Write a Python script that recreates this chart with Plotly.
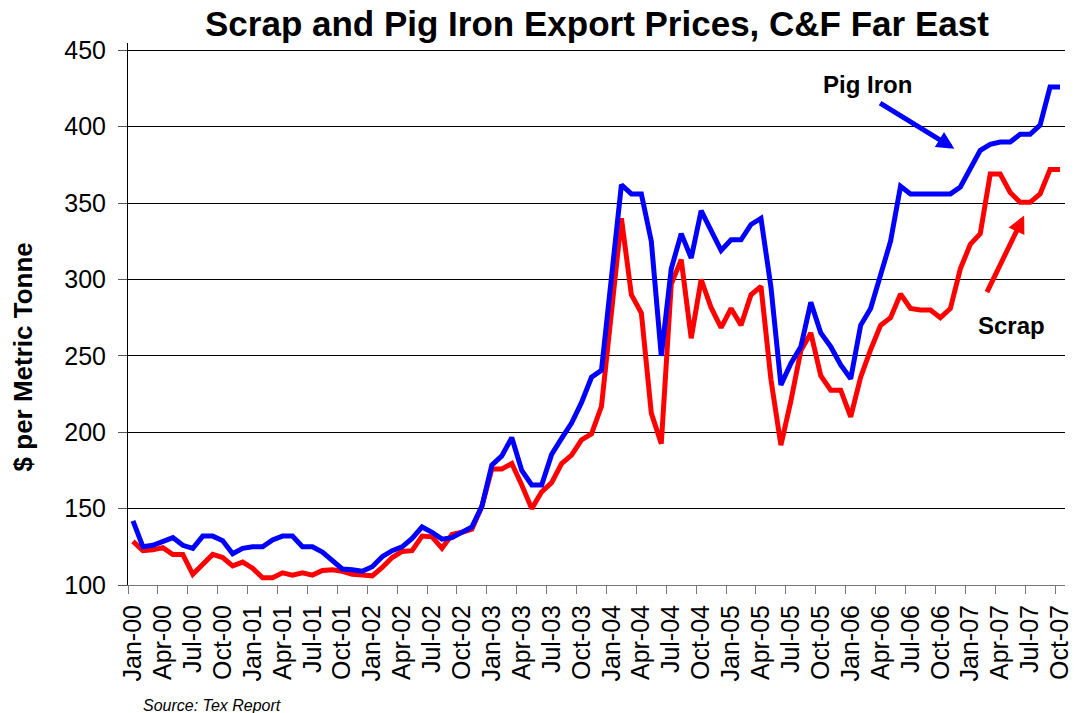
import plotly.graph_objects as go

# Categories: monthly, Jan-00 .. Oct-07
month_names = ["Jan", "Feb", "Mar", "Apr", "May", "Jun",
               "Jul", "Aug", "Sep", "Oct", "Nov", "Dec"]
years = ["00", "01", "02", "03", "04", "05", "06", "07"]
months = [f"{m}-{y}" for y in years for m in month_names][:94]

pig_iron = [142, 125, 126, 128.5, 131, 126, 124, 132, 132, 129, 120.5, 124,
            125, 125, 129.5, 132, 132, 125, 125, 121.5, 116.5, 110.5, 110, 109,
            112, 118.5, 122.5, 125, 130.5, 138, 134.5, 130, 131, 134.5, 138, 151.5,
            178.5, 184.5, 196.5, 175, 165.5, 165.5, 185.5, 196, 206, 219.5, 236, 240.5,
            298, 362, 356, 356, 325, 250, 307, 330, 314, 345, 332, 319,
            326, 326, 336, 340, 295, 231, 245, 256, 285, 265, 256, 244,
            235, 270, 281, 304, 325, 361, 356, 356, 356, 356, 356, 360.5,
            372, 384.5, 388.5, 390, 390, 395, 395, 401, 426, 426]

scrap = [128.5, 122.5, 123, 124.5, 120, 120, 107, 113.5, 120, 118, 112.5, 115,
         111, 104.7, 104.7, 108, 106.5, 108, 106.5, 109.5, 110, 109, 107, 106.5,
         106, 111.5, 118, 122, 122.5, 132, 131.5, 124, 133, 134.5, 136.5, 151.5,
         176, 176, 179.5, 165.5, 150, 161, 167, 179.5, 185, 195, 199, 217,
         275, 340, 290, 278, 212.5, 192.5, 297, 313, 261.5, 300, 281.5, 268.5,
         281, 270, 290, 295.5, 234.5, 191.5, 220.5, 253.5, 265, 237, 227.5, 227.5,
         210, 236, 254, 270, 275, 290.5, 281, 280, 280, 275, 281, 307,
         323, 330, 369, 369, 357, 350.5, 350.5, 356, 372, 372]

FONT = "Arial, 'Liberation Sans', sans-serif"

fig = go.Figure()
fig.add_trace(go.Scatter(x=months, y=scrap, mode="lines", name="Scrap",
                         line=dict(color="#FF0000", width=5)))
fig.add_trace(go.Scatter(x=months, y=pig_iron, mode="lines", name="Pig Iron",
                         line=dict(color="#0000FF", width=5)))

fig.update_layout(
    width=1081, height=713,
    margin=dict(l=128, r=8, t=43, b=128, pad=0),
    paper_bgcolor="white", plot_bgcolor="white",
    showlegend=False,
    font=dict(family=FONT, color="black"),
    xaxis=dict(type="category", tickmode="linear", tick0=0, dtick=3,
               tickson="boundaries", tickangle=-90,
               ticks="outside", ticklen=8, tickcolor="#777777",
               ticklabelstandoff=9,
               showline=True, linecolor="#777777", linewidth=1,
               showgrid=False, tickfont=dict(size=25, family=FONT, color="black"),
               range=[-0.5, 93.5]),
    yaxis=dict(range=[100, 454.8], tickmode="linear", tick0=100, dtick=50,
               ticks="outside", ticklen=9, tickcolor="#555555",
               ticklabelstandoff=7,
               showline=True, linecolor="black", linewidth=1,
               showgrid=True, gridcolor="black", gridwidth=1,
               zeroline=False, tickfont=dict(size=25, family=FONT, color="black")),
)

annotations = [
    dict(text="<b>Scrap and Pig Iron Export Prices, C&F Far East</b>",
         xref="paper", yref="paper", x=0.5, y=1.036, showarrow=False,
         xanchor="center", yanchor="middle",
         font=dict(size=35, family=FONT, color="black")),
    dict(text="<b>$ per Metric Tonne</b>", textangle=-90,
         xref="paper", yref="paper", x=-0.112, y=0.42, showarrow=False,
         xanchor="center", yanchor="middle",
         font=dict(size=26, family=FONT, color="black")),
    dict(text="<i>Source: Tex Report</i>",
         xref="paper", yref="paper", x=0.0142, y=-0.223, showarrow=False,
         xanchor="left", yanchor="middle",
         font=dict(size=16, family=FONT, color="black")),
    dict(text="<b>Pig Iron</b>", xref="x", yref="y", x=73.7, y=427.5,
         showarrow=False, xanchor="center", yanchor="middle",
         font=dict(size=24, family=FONT, color="black")),
    dict(text="<b>Scrap</b>", xref="x", yref="y", x=88.1, y=270,
         showarrow=False, xanchor="center", yanchor="middle",
         font=dict(size=24, family=FONT, color="black")),
    dict(text="", xref="x", yref="y", x=82.4, y=385.6,
         axref="x", ayref="y", ax=74.8, ay=416.1,
         showarrow=True, arrowhead=2, arrowsize=0.7, arrowwidth=5,
         arrowcolor="#0000FF", standoff=0, startstandoff=0),
    dict(text="", xref="x", yref="y", x=89.4, y=341.9,
         axref="x", ayref="y", ax=85.6, ay=290.7,
         showarrow=True, arrowhead=2, arrowsize=0.7, arrowwidth=5,
         arrowcolor="#FF0000", standoff=0, startstandoff=0),
]
fig.update_layout(annotations=annotations)

# remove the browser's default 8px body margin so the figure fills the window
fig.write_html("out.html",
               config={"displayModeBar": False},
               post_script="document.body.style.margin='0px';"
                           "document.body.style.overflow='hidden';")
